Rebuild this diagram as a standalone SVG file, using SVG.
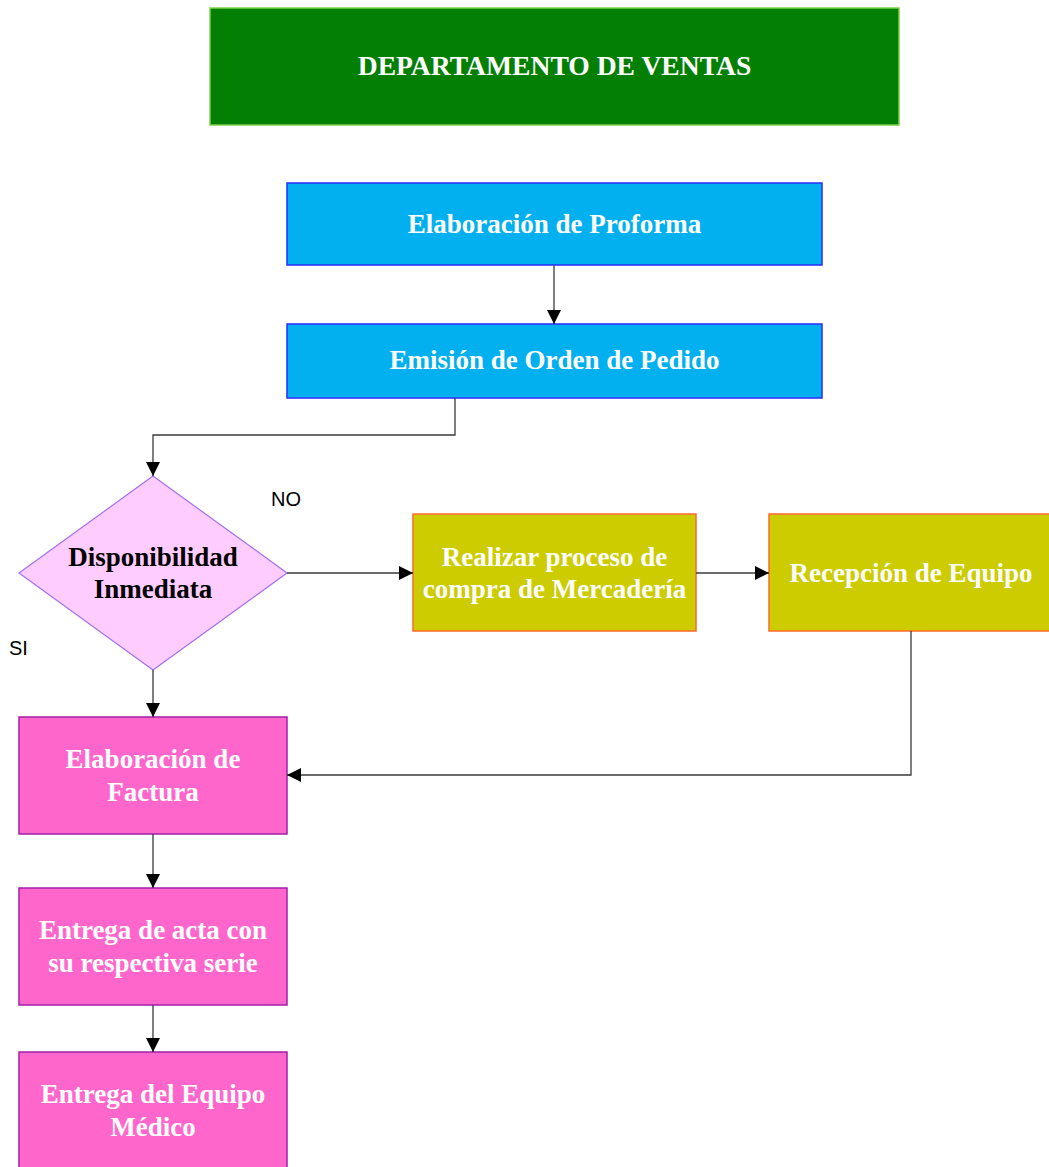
<svg xmlns="http://www.w3.org/2000/svg" width="1049" height="1167" viewBox="0 0 1049 1167">
  <style>
    .lbl { font-family: "Liberation Serif", "Times New Roman", serif; font-weight: bold; font-size: 27px; text-anchor: middle; fill: #ffffff; }
    .big { font-size: 27.6px; }
    .dark { fill: #000000; }
    .tag { font-family: "Liberation Sans", Arial, sans-serif; font-size: 20px; fill: #000000; }
    .title { fill: #037f03; stroke: #7ccf4a; stroke-width: 1.5; }
    .blue { fill: #02b0f0; stroke: #2a2aff; stroke-width: 1.5; }
    .olive { fill: #cccc00; stroke: #ff6a2a; stroke-width: 1.5; }
    .pink { fill: #ff66cc; stroke: #a020a8; stroke-width: 1.5; }
    .decision { fill: #ffccff; stroke: #a070f0; stroke-width: 1.2; }
    .edge { fill: none; stroke: #3a3a3a; stroke-width: 1.3; marker-end: url(#arrow); }
  </style>
  <defs>
    <marker id="arrow" viewBox="0 0 10 10" refX="10" refY="5" markerUnits="userSpaceOnUse" markerWidth="16" markerHeight="14" orient="auto">
      <path d="M0,0 L10,5 L0,10 z" fill="#000000"/>
    </marker>
  </defs>
  <rect width="1049" height="1167" fill="#ffffff"/>

  <g id="departamento">
    <rect class="title" x="210" y="8" width="689" height="117"/>
    <text class="lbl big" x="554.5" y="75">DEPARTAMENTO DE VENTAS</text>
  </g>

  <g id="proforma">
    <rect class="blue" x="287" y="183" width="535" height="82"/>
    <text class="lbl" x="554.5" y="233">Elaboración de Proforma</text>
  </g>

  <g id="orden-pedido">
    <rect class="blue" x="287" y="324" width="535" height="74"/>
    <text class="lbl" x="554.5" y="369">Emisión de Orden de Pedido</text>
  </g>

  <g id="disponibilidad">
    <polygon class="decision" points="153,476 287,573 153,670 19,573"/>
    <text class="lbl dark" x="153" y="566">Disponibilidad</text>
    <text class="lbl dark" x="153" y="598">Inmediata</text>
  </g>

  <g id="compra">
    <rect class="olive" x="413" y="514" width="283" height="117"/>
    <text class="lbl" x="554.5" y="566">Realizar proceso de</text>
    <text class="lbl" x="554.5" y="598">compra de Mercadería</text>
  </g>

  <g id="recepcion">
    <rect class="olive" x="769" y="514" width="284" height="117"/>
    <text class="lbl" x="911" y="582">Recepción de Equipo</text>
  </g>

  <g id="factura">
    <rect class="pink" x="19" y="717" width="268" height="117"/>
    <text class="lbl" x="153" y="768">Elaboración de</text>
    <text class="lbl" x="153" y="801">Factura</text>
  </g>

  <g id="acta">
    <rect class="pink" x="19" y="888" width="268" height="117"/>
    <text class="lbl" x="153" y="939">Entrega de acta con</text>
    <text class="lbl" x="153" y="972">su respectiva serie</text>
  </g>

  <g id="entrega-equipo">
    <rect class="pink" x="19" y="1052" width="268" height="120"/>
    <text class="lbl" x="153" y="1103">Entrega del Equipo</text>
    <text class="lbl" x="153" y="1136">Médico</text>
  </g>

  <g id="labels">
    <text class="tag" x="271" y="506">NO</text>
    <text class="tag" x="9" y="655">SI</text>
  </g>

  <g id="connectors">
    <path class="edge" d="M554,265 L554,324"/>
    <path class="edge" d="M455,398 L455,435 L153,435 L153,476"/>
    <path class="edge" d="M287,573 L413,573"/>
    <path class="edge" d="M696,573 L769,573"/>
    <path class="edge" d="M911,631 L911,775 L287,775"/>
    <path class="edge" d="M153,670 L153,717"/>
    <path class="edge" d="M153,834 L153,888"/>
    <path class="edge" d="M153,1005 L153,1052"/>
  </g>
</svg>
